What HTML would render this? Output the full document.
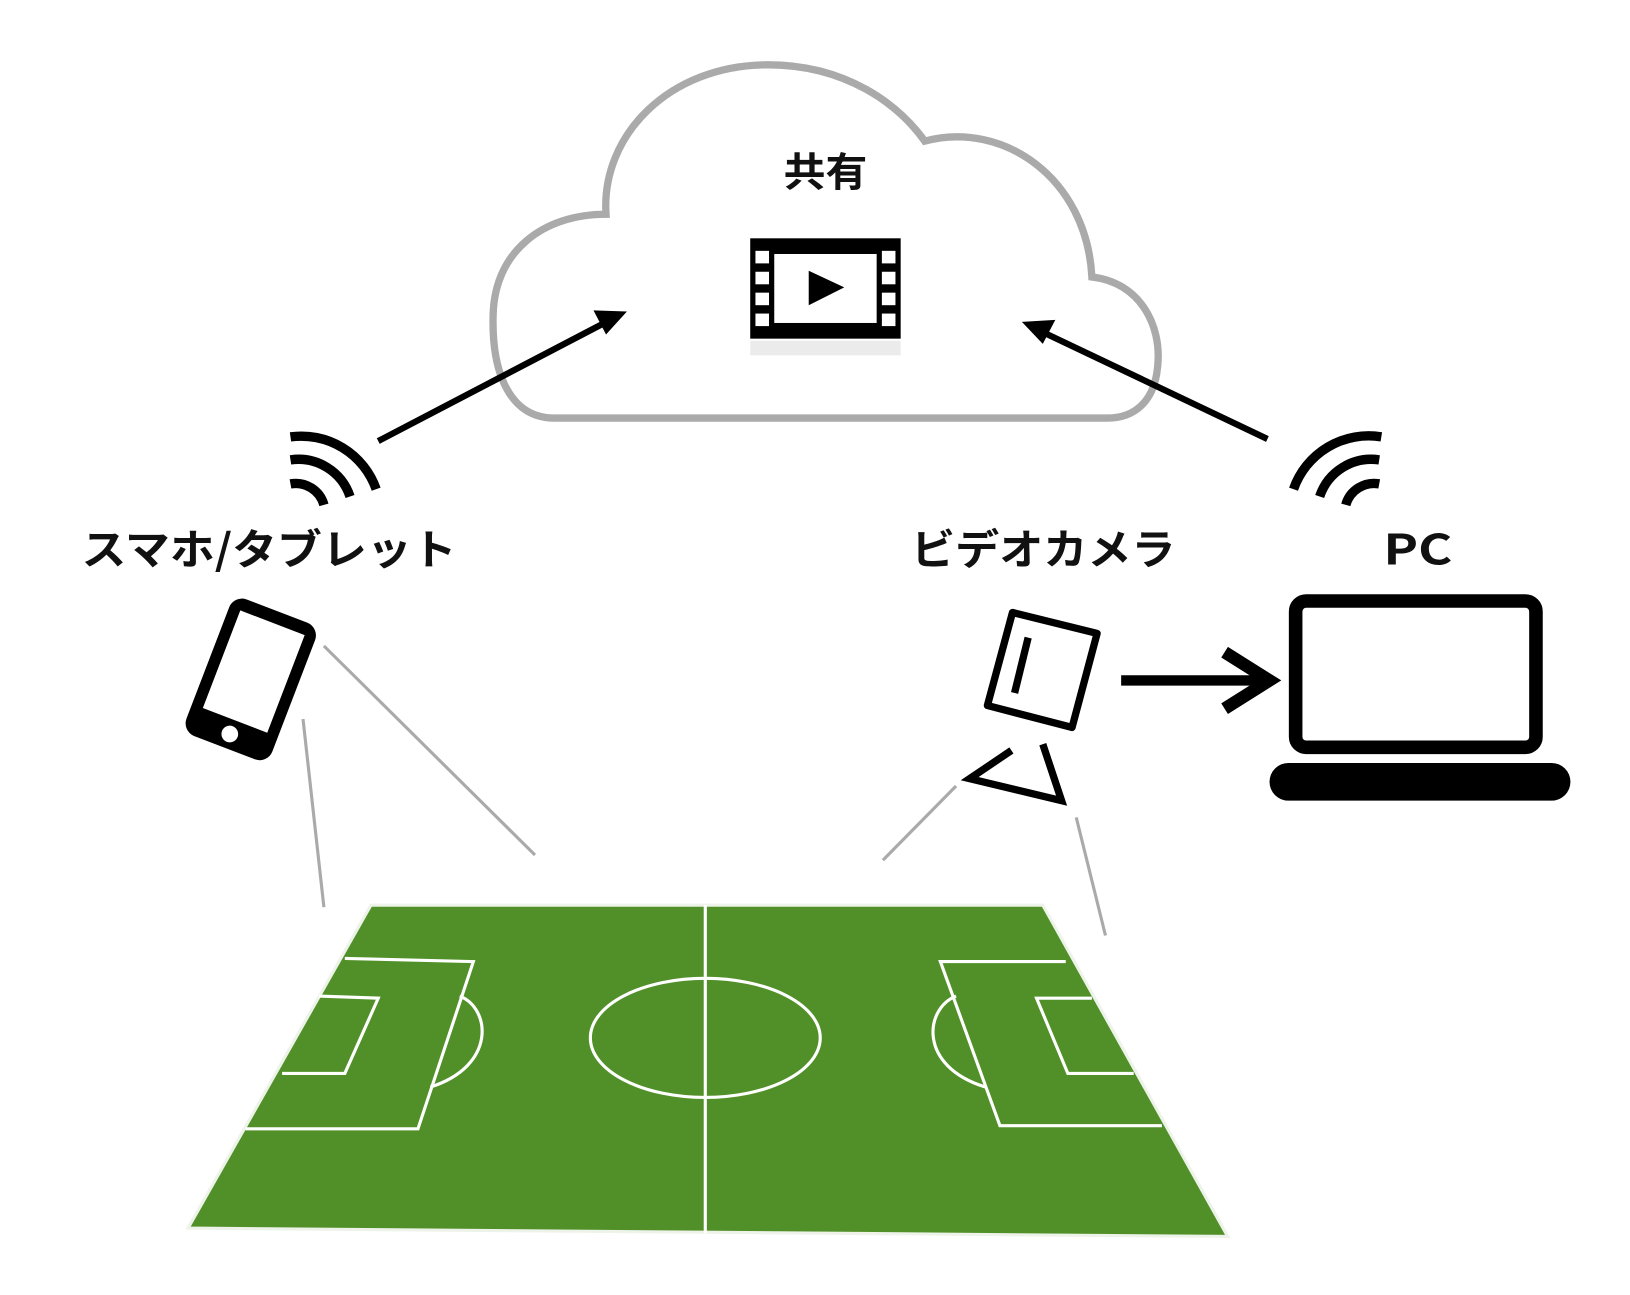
<!DOCTYPE html>
<html><head><meta charset="utf-8"><style>
html,body{margin:0;padding:0;background:#fff;}
svg{display:block;}
text{font-family:"Noto Sans CJK JP","Liberation Sans",sans-serif;font-weight:bold;fill:#111;}
</style></head><body>
<svg width="1630" height="1295" viewBox="0 0 1560 1239" preserveAspectRatio="none" xmlns="http://www.w3.org/2000/svg">
<!-- cloud -->
<path d="M530 400 C490 400 470 360 472 300 C474 240 520 205 580 205 C575 130 640 62 735 62 C810 62 860 100 885 135 C960 115 1040 170 1045 265 C1090 270 1112 310 1108 350 C1105 385 1085 400 1060 400 Z" fill="none" stroke="#aaa" stroke-width="7"/>
<text x="750" y="178" font-size="38" textLength="80" lengthAdjust="spacingAndGlyphs">共有</text>
<!-- film icon -->
<rect x="718" y="228" width="144" height="96" fill="#000"/>
<rect x="741" y="243" width="98" height="66" fill="#fff"/>
<g fill="#fff">
<rect x="723" y="240" width="13" height="12"/><rect x="723" y="260" width="13" height="12"/><rect x="723" y="280" width="13" height="12"/><rect x="723" y="300" width="13" height="12"/>
<rect x="844" y="240" width="13" height="12"/><rect x="844" y="260" width="13" height="12"/><rect x="844" y="280" width="13" height="12"/><rect x="844" y="300" width="13" height="12"/>
</g>
<polygon points="774,259 774,292 808,275" fill="#000"/>
<rect x="718" y="326" width="144" height="14" fill="#ddd" opacity="0.6"/>
<!-- arrows to cloud -->
<g stroke="#000" stroke-width="6" fill="none">
<line x1="362" y1="422" x2="590" y2="303"/>
<line x1="1213" y1="420" x2="988" y2="313"/>
</g>
<polygon points="600,298 568,297 580,320" fill="#000"/>
<polygon points="978,308 1010,306 998,329" fill="#000"/>
<!-- wifi -->
<g stroke="#000" stroke-width="9" fill="none">
<path d="M278 463 A28 28 0 0 1 310 483"/>
<path d="M278 440 A52 52 0 0 1 335 475"/>
<path d="M278 418 A76 76 0 0 1 360 468"/>
<path d="M1320 463 A28 28 0 0 0 1288 483"/>
<path d="M1320 440 A52 52 0 0 0 1263 475"/>
<path d="M1322 418 A76 76 0 0 0 1238 468"/>
</g>
<text x="78" y="540" font-size="40" textLength="359" lengthAdjust="spacingAndGlyphs">スマホ/タブレット</text>
<text x="872" y="540" font-size="40" textLength="253" lengthAdjust="spacingAndGlyphs">ビデオカメラ</text>
<text x="1324" y="540" font-size="40" textLength="66" lengthAdjust="spacingAndGlyphs">PC</text>
<!-- phone -->
<g transform="translate(240,650) rotate(21)">
<rect x="-44" y="-70" width="88" height="140" rx="13" fill="#000"/>
<rect x="-33" y="-58" width="66" height="100" fill="#fff"/>
<circle cx="0" cy="56" r="8" fill="#fff"/>
</g>
<!-- gray view lines -->
<g stroke="#aaa" stroke-width="3">
<line x1="290" y1="688" x2="310" y2="868"/>
<line x1="310" y1="618" x2="512" y2="818"/>
<line x1="915" y1="752" x2="845" y2="823"/>
<line x1="1030" y1="782" x2="1058" y2="895"/>
</g>
<!-- camera -->
<polygon points="969,586 1050,606 1026,696 945,675" fill="none" stroke="#000" stroke-width="7" stroke-linejoin="round"/>
<line x1="984" y1="610" x2="971" y2="663" stroke="#000" stroke-width="7"/>
<polyline points="968,718 928,745 1016,766 998,712" fill="none" stroke="#000" stroke-width="7"/>
<!-- camera to pc arrow -->
<line x1="1073" y1="651" x2="1210" y2="651" stroke="#000" stroke-width="10"/>
<polyline points="1172,624 1215,651 1172,678" fill="none" stroke="#000" stroke-width="12"/>
<!-- laptop -->
<rect x="1240" y="575" width="230" height="140" rx="10" fill="none" stroke="#000" stroke-width="13"/>
<rect x="1215" y="730" width="288" height="36" rx="18" fill="#000"/>
<!-- field -->
<polygon points="355,866 998,866 1175,1183 180,1175" fill="#519028" stroke="#eef3ea" stroke-width="3"/>
<g stroke="#fff" stroke-width="3" fill="none">
<line x1="675" y1="866" x2="675" y2="1180"/>
<ellipse cx="675" cy="993" rx="110" ry="57"/>
<polyline points="330,917 453,920 400,1080 235,1080"/>
<polyline points="305,953 362,955 330,1027 270,1027"/>
<path d="M440 953 C470 965 475 1020 412 1040"/>
<polyline points="1020,920 900,920 957,1077 1112,1077"/>
<polyline points="1045,955 992,955 1022,1027 1085,1027"/>
<path d="M915 953 C885 965 878 1020 943 1040"/>
</g>
</svg>
</body></html>
